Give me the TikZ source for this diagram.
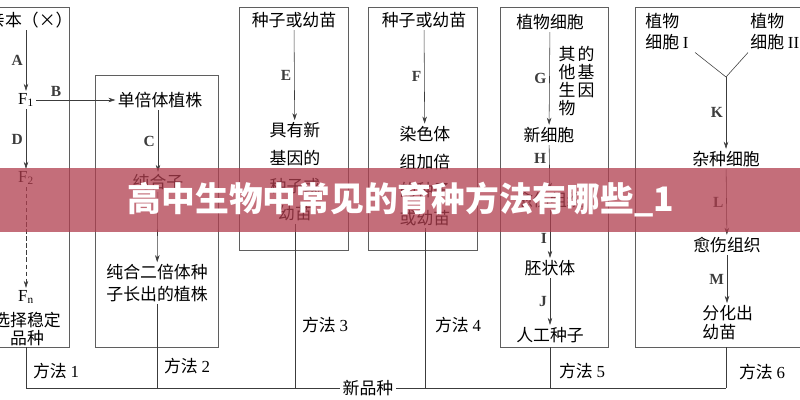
\documentclass[tikz,border=0pt]{standalone}
\usepackage{fontspec}
\setmainfont{Noto Sans CJK SC}
\newfontfamily\lat{Liberation Serif}
\usepackage{tikz}
\usetikzlibrary{arrows,arrows.meta,positioning}
\definecolor{dfline}{RGB}{60,60,60}
\definecolor{dfframe}{RGB}{95,95,95}
\definecolor{dfbanner}{RGB}{176,62,78}
\tikzstyle{arrow} = [->,>={Stealth[length=5pt,width=3.2pt]},color=dfline,thin]
\tikzstyle{link} = [color=dfline,thin]
\tikzstyle{frame} = [draw=dfframe,thin]
\tikzstyle{stage} = [font=\fontsize{12}{15}\selectfont, inner sep=1.5pt, align=center]
\tikzstyle{letter} = [font=\lat\bfseries\fontsize{11}{13}\selectfont, inner sep=2pt]

\begin{document}
\begin{tikzpicture}[x=0.025cm, y=-0.025cm]
\clip (0,0) rectangle (800,400);

% Frames
\draw[frame] (-10,7) rectangle (69,347);
\draw[frame] (95,75) rectangle (218,347);
\draw[frame] (239,7) rectangle (348,250);
\draw[frame] (368,7) rectangle (477,250);
\draw[frame] (500,7) rectangle (608,347);
\draw[frame] (635,7) rectangle (812,347);

% Method 1
\node[stage, anchor=east] (p1) at (75,20) {亲本（×）};
\node[stage, font=\lat\fontsize{12}{14}\selectfont] (f1) at (26,100) {F\textsubscript{1}};
\node[stage, font=\lat\fontsize{12}{14}\selectfont] (f2) at (26,178) {F\textsubscript{2}};
\node[stage, font=\lat\fontsize{12}{14}\selectfont] (fn) at (26,297) {F\textsubscript{n}};
\node[stage, font=\fontsize{12}{13}\selectfont] (sel) at (27,329) {选择稳定\\品种};
\draw[arrow] (p1.south -| f1) -- node[letter, left] {A} (f1);
\draw[arrow] (f1) -- node[letter, left] {D} (f2);
\draw[arrow, dash pattern=on 3pt off 2pt] (f2) -- (fn);

% Method 2
\node[stage] (hap) at (160,100) {单倍体植株};
\node[stage] (homo) at (158,182) {纯合子};
\node[stage] (plant2) at (157,283) {纯合二倍体种\\子长出的植株};
\draw[arrow] (f1) -- node[letter, above, pos=0.25] {B} (hap);
\draw[arrow] (hap.south -| homo) -- node[letter, left] {C} (homo);
\draw[arrow] (homo) -- (plant2);

% Method 3
\node[stage] (seed3) at (294,20) {种子或幼苗};
\node[stage, font=\fontsize{12}{19.7}\selectfont] (mut) at (295,172) {具有新\\基因的\\种子或\\幼苗};
\draw[arrow] (seed3) -- node[letter, left] {E} (mut);

% Method 4
\node[stage] (seed4) at (424,20) {种子或幼苗};
\node[stage, font=\fontsize{12}{20}\selectfont] (poly) at (425,176) {染色体\\组加倍\\的种子\\或幼苗};
\draw[arrow] (seed4) -- node[letter, left] {F} (poly);

% Method 5
\node[stage] (cell5) at (550,22) {植物细胞};
\node[stage] (new5) at (549,135) {新细胞};
\node[stage] (cal5) at (550,200) {愈伤组织};
\node[stage] (emb) at (550,268) {胚状体};
\node[stage] (art) at (550,335) {人工种子};
\node[stage, anchor=north, font=\fontsize{12}{12.8}\selectfont] (gene1) at (567,44) {其\\他\\生\\物};
\node[stage, anchor=north, font=\fontsize{12}{12.8}\selectfont] (gene2) at (586,44) {的\\基\\因};
\draw[arrow] (cell5) -- node[letter, left] {G} (new5);
\draw[arrow] (new5) -- node[letter, left, pos=0.3] {H} (cal5);
\draw[arrow] (cal5) -- node[letter, left, pos=0.6] {I} (emb);
\draw[arrow] (emb) -- node[letter, left] {J} (art);

% Method 6
\node[stage, anchor=north west, align=left] (cellA) at (643,11) {植物\\细胞 {\lat I}};
\node[stage, anchor=north west, align=left] (cellB) at (748,11) {植物\\细胞 {\lat II}};
\coordinate (yj) at (726,77);
\node[stage] (hyb) at (726,159) {杂种细胞};
\node[stage] (cal6) at (727,245) {愈伤组织};
\node[stage, anchor=north west, align=left, font=\fontsize{12}{13.5}\selectfont] (diff) at (700,303) {分化出\\幼苗};
\draw[link] ([xshift=3pt]cellA.south east) -- (yj);
\draw[link] (cellB.south west) -- (yj);
\draw[arrow] (yj) -- node[letter, left] {K} (hyb);
\draw[arrow] (hyb) -- node[letter, left] {L} (cal6);
\draw[arrow] (cal6) -- node[letter, left] {M} (cal6 |- diff.north);

% Bottom line
\coordinate (j1) at (26,388);
\coordinate (j6) at (726,388);
\coordinate (b1s) at (26,347);
\coordinate (b5s) at (550,347);
\coordinate (b6s) at (726,347);
\node[stage, inner sep=2pt] (nb) at (368,388) {新品种};
\draw[link] (j1) -- (nb);
\draw[link] (nb) -- (j6);
\draw[link] (b1s) -- (j1);
\draw[link] (plant2) -- (plant2 |- j1);
\draw[link] (mut) -- (mut |- j1);
\draw[link] (poly) -- (poly |- j1);
\draw[link] (b5s) -- (b5s |- j1);
\draw[link] (b6s) -- (j6);

% Method labels
\node[stage] (m1) at (56,371) {方法 {\lat 1}};
\node[stage] (m2) at (187,366) {方法 {\lat 2}};
\node[stage] (m3) at (325,325) {方法 {\lat 3}};
\node[stage] (m4) at (458,325) {方法 {\lat 4}};
\node[stage] (m5) at (582,371) {方法 {\lat 5}};
\node[stage] (m6) at (762,372) {方法 {\lat 6}};

% Banner
\fill[dfbanner, opacity=0.75] (0,168) rectangle (800,232);
\node[font=\fontsize{24}{28}\selectfont\bfseries, text=white] (title) at (401,200) {高中生物中常见的育种方法有哪些\_1};
\end{tikzpicture}
\end{document}
